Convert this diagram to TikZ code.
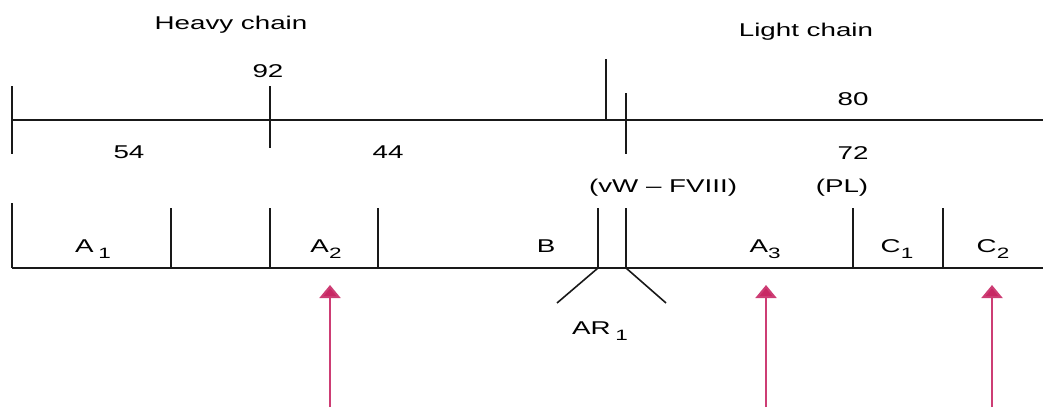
\documentclass[tikz,border=0pt]{standalone}
\usepackage{fontspec}
\setmainfont{Liberation Sans}
\usetikzlibrary{arrows.meta}
\definecolor{arrowcol}{RGB}{200,40,100}
\newcommand{\sbs}[1]{\raisebox{-6pt}{\fontsize{15}{15}\selectfont #1}}
\tikzset{
  lbl/.style={font=\fontsize{18.5}{20}\selectfont, xscale=1.5, inner sep=0pt, anchor=base},
  rule/.style={line width=1.6pt, black!90},
  marker/.style={draw=arrowcol!90, line width=2pt, -{Triangle[width=21pt,length=13pt,fill=arrowcol]}}
}
\begin{document}
\begin{tikzpicture}[x=1pt,y=-1pt]
\useasboundingbox (0,0) rectangle (1043,407);
% upper scale
\draw[rule] (12,120) -- (1043,120);
\draw[rule] (12,86) -- (12,154);
\draw[rule] (270,86) -- (270,148);
\draw[rule] (606,59) -- (606,120);
\draw[rule] (626,93) -- (626,154);
% lower scale
\draw[rule] (12,268) -- (1043,268);
\draw[rule] (12,203) -- (12,268);
\draw[rule] (171,208) -- (171,268);
\draw[rule] (270,208) -- (270,268);
\draw[rule] (378,208) -- (378,268);
\draw[rule] (598,208) -- (598,268);
\draw[rule] (626,208) -- (626,268);
\draw[rule] (598,268) -- (557,303);
\draw[rule] (626,268) -- (666,303);
\draw[rule] (853,208) -- (853,268);
\draw[rule] (943,208) -- (943,268);
% labels
\node[lbl] (heavy) at (231,29) {Heavy chain};
\node[lbl] (light) at (806,36) {Light chain};
\node[lbl] (n92) at (268,77) {92};
\node[lbl] (n54) at (129,158) {54};
\node[lbl] (n44) at (388,158) {44};
\node[lbl] (n80) at (853,105) {80};
\node[lbl] (n72) at (853,159) {72};
\node[lbl] (vw) at (663,192) {(vW -- FVIII)};
\node[lbl] (pl) at (842,192) {(PL)};
\node[lbl] (a1) at (93,252) {A\,\sbs{1}};
\node[lbl] (a2) at (326,252) {A\sbs{2}};
\node[lbl] (b) at (546,252) {B};
\node[lbl] (a3) at (765,252) {A\sbs{3}};
\node[lbl] (c1) at (897,252) {C\sbs{1}};
\node[lbl] (c2) at (993,252) {C\sbs{2}};
\node[lbl] (ar1) at (600,334) {AR\,\sbs{1}};
% arrows
\coordinate (s1) at (330,407); \coordinate (e1) at (330,285);
\coordinate (s2) at (766,407); \coordinate (e2) at (766,285);
\coordinate (s3) at (992,407); \coordinate (e3) at (992,285);
\draw[marker] (s1) -- (e1);
\draw[marker] (s2) -- (e2);
\draw[marker] (s3) -- (e3);
\end{tikzpicture}
\end{document}
